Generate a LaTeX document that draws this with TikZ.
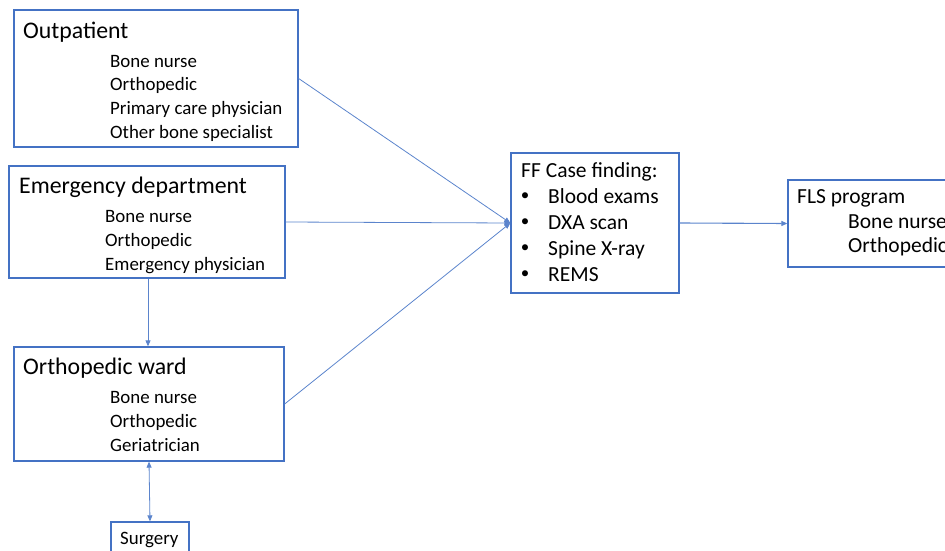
\documentclass[tikz,border=0pt]{standalone}
\usepackage{fontspec}
\setmainfont{Carlito}
\usetikzlibrary{arrows.meta}
\definecolor{boxblue}{HTML}{4472C4}
\definecolor{lineblue}{HTML}{5B84CC}
\tikzset{
  box/.style={draw=boxblue, line width=1.3pt, rectangle, inner sep=0pt},
  ttl/.style={anchor=base west, inner sep=0pt, font=\fontsize{23.8}{28}\selectfont},
  itm/.style={anchor=base west, inner sep=0pt, font=\fontsize{18.9}{23}\selectfont},
  big/.style={anchor=base west, inner sep=0pt, font=\fontsize{21.5}{26}\selectfont},
  bul/.style={anchor=center, inner sep=0pt, font=\fontsize{17}{20}\selectfont},
  conn/.style={draw=lineblue, line width=0.8pt},
  arr/.style={conn, -{Triangle[length=6pt,width=5pt]}},
  darr/.style={conn, {Triangle[length=6pt,width=5pt]}-{Triangle[length=6pt,width=5pt]}}
}
\begin{document}
\begin{tikzpicture}[x=1pt,y=-1pt]
\clip (0,0) rectangle (945,551);
\useasboundingbox (0,0) rectangle (945,551);
% boxes
\node[box, minimum width=284pt, minimum height=137pt] (out) at (156,78.5) {};
\node[box, minimum width=276pt, minimum height=112pt] (emg) at (147,222) {};
\node[box, minimum width=270pt, minimum height=114pt] (ward) at (149,404) {};
\node[box, minimum width=78pt, minimum height=38pt] (surg) at (150,541) {};
\node[box, minimum width=168pt, minimum height=140pt] (ff) at (595,223) {};
\node[box, minimum width=172pt, minimum height=87pt] (fls) at (874,223.5) {};
% Outpatient text
\node[ttl] (outT) at (23,39) {Outpatient};
\node[itm] (out1) at (110,67) {Bone nurse};
\node[itm] (out2) at (110,91) {Orthopedic};
\node[itm] (out3) at (110,114.5) {Primary care physician};
\node[itm] (out4) at (110,138) {Other bone specialist};
% Emergency text
\node[ttl] (emgT) at (19,193) {Emergency department};
\node[itm] (emg1) at (105,222) {Bone nurse};
\node[itm] (emg2) at (105,246) {Orthopedic};
\node[itm] (emg3) at (105,270) {Emergency physician};
% Ward text
\node[ttl] (wardT) at (23,374) {Orthopedic ward};
\node[itm] (ward1) at (110,403) {Bone nurse};
\node[itm] (ward2) at (110,427) {Orthopedic};
\node[itm] (ward3) at (110,451) {Geriatrician};
% Surgery
\node[itm] (surgT) at (120,544) {Surgery};
% FF
\node[big] (ffT) at (521,177) {FF Case finding:};
\node[bul] (ffb1) at (525,197) {•};
\node[big] (ff1) at (548,203) {Blood exams};
\node[bul] (ffb2) at (525,223) {•};
\node[big] (ff2) at (548,229) {DXA scan};
\node[bul] (ffb3) at (525,249) {•};
\node[big] (ff3) at (548,255) {Spine X-ray};
\node[bul] (ffb4) at (525,275) {•};
\node[big] (ff4) at (548,281) {REMS};
% FLS
\node[big] (flsT) at (797,203) {FLS program};
\node[big] (fls1) at (848,228) {Bone nurse};
\node[big] (fls2) at (848,252) {Orthopedic};
% connectors
\draw[arr] (out.east) -- (ff.west);
\draw[arr] (emg.east) -- (ff.west);
\draw[arr] (ward.east) -- (ff.west);
\draw[arr, line width=1.1pt] (ff.east) -- (fls.west);
\draw[arr] (emg.south) ++(1,0) coordinate (emgS) -- (emgS |- ward.north);
\draw[darr] (ward.south) -- (surg.north);
\end{tikzpicture}
\end{document}
